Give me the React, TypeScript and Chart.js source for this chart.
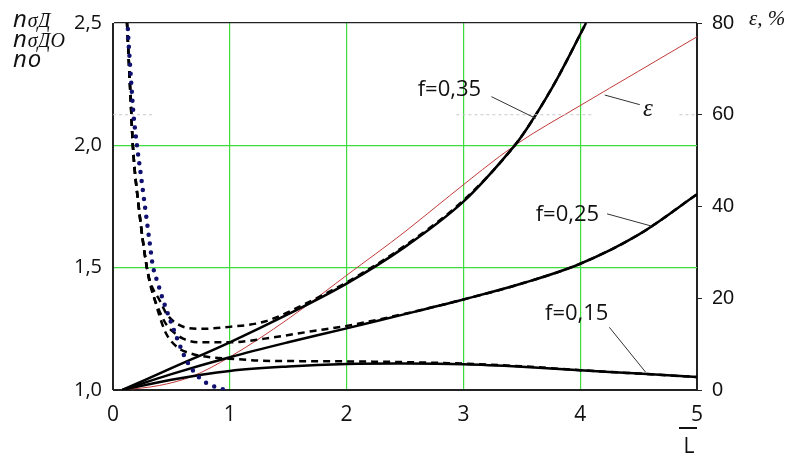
import React, { useEffect, useRef } from "react";
import { Chart, registerables } from "chart.js";
Chart.register(...registerables);

// ---- data ----
const xTicks = [0, 1, 2, 3, 4, 5];

const f35SolidX = [0.08, 0.5, 1.0, 1.5, 2.0, 2.5, 3.0, 3.44, 3.6, 3.8, 4.05];
const f35SolidY = [1.0, 1.089, 1.195, 1.31, 1.435, 1.585, 1.77, 2.0, 2.11, 2.27, 2.5];

const f25SolidX = [0.08, 0.5, 1.0, 1.5, 2.0, 2.5, 3.0, 3.5, 4.0, 4.5, 5.0];
const f25SolidY = [1.0, 1.065, 1.134, 1.195, 1.252, 1.31, 1.37, 1.435, 1.516, 1.635, 1.8];

const f15SolidX = [0.08, 0.5, 1.0, 1.5, 2.0, 2.5, 3.0, 3.5, 4.0, 4.5, 5.0];
const f15SolidY = [1.0, 1.042, 1.078, 1.096, 1.106, 1.108, 1.105, 1.095, 1.081, 1.067, 1.053];

const f35DashX = [0.12, 0.15, 0.17, 0.22, 0.29, 0.32, 0.4, 0.46, 0.57, 0.74, 1.0, 1.3, 1.7, 2.0, 2.5, 3.0, 3.44, 3.6, 3.8, 4.05];
const f35DashY = [2.5, 2.2, 2.0, 1.75, 1.5, 1.44, 1.366, 1.31, 1.265, 1.25, 1.258, 1.28, 1.365, 1.44, 1.59, 1.775, 2.0, 2.11, 2.27, 2.5];

const f25DashX = [0.12, 0.15, 0.17, 0.22, 0.29, 0.33, 0.4, 0.46, 0.51, 0.6, 0.74, 1.0, 1.3, 1.7, 2.0, 2.5, 3.0, 3.5, 4.0, 4.5, 5.0];
const f25DashY = [2.5, 2.2, 2.0, 1.75, 1.5, 1.41, 1.32, 1.265, 1.24, 1.21, 1.195, 1.195, 1.21, 1.24, 1.262, 1.312, 1.37, 1.435, 1.516, 1.635, 1.8];

const f15DashX = [0.12, 0.15, 0.17, 0.22, 0.29, 0.34, 0.4, 0.45, 0.55, 0.66, 0.83, 1.0, 1.26, 1.6, 2.0, 2.5, 3.0, 3.5, 4.0, 4.5, 5.0];
const f15DashY = [2.5, 2.2, 2.0, 1.75, 1.5, 1.4, 1.3, 1.235, 1.175, 1.15, 1.134, 1.128, 1.12, 1.118, 1.117, 1.114, 1.108, 1.097, 1.081, 1.067, 1.053];

const blueX = [0.12, 0.13, 0.15, 0.175, 0.205, 0.23, 0.26, 0.29, 0.32, 0.34, 0.385, 0.43, 0.49, 0.545, 0.63, 0.74, 0.89, 0.97];
const blueY = [2.55, 2.45, 2.3, 2.13, 2.0, 1.91, 1.8, 1.69, 1.58, 1.51, 1.435, 1.366, 1.285, 1.215, 1.12, 1.05, 1.01, 1.0];

const epsX = [0.08, 0.4, 0.68, 1.0, 1.5, 2.0, 2.5, 2.88, 3.45, 4.0, 4.5, 5.0];
const epsY = [0, 1, 3, 7.2, 15.5, 25, 34.5, 42.3, 53.5, 62, 69.5, 77];

const faintX = [0, 0.36, 0.37, 2.93, 2.94, 4.1, 4.11, 4.84, 4.85, 5.0];
const faintY = [60, 60, null, null, 60, 60, null, null, 60, 60];

// annotation labels (data coordinates, left axis)
const labelTexts = ["f=0,35", "f=0,25", "f=0,15"];
const labelX = [2.88, 3.89, 3.97];
const labelY = [2.228, 1.715, 1.31];
const leaderFromX = [3.24, 4.23, 4.25];
const leaderFromY = [2.199, 1.72, 1.256];
const leaderToX = [3.62, 4.61, 4.56];
const leaderToY = [2.11, 1.67, 1.073];

const epsLabelX = 4.58;
const epsLabelY = 61.1;
const epsLeaderX = [4.21, 4.51];
const epsLeaderY = [64.3, 62.2];

const pts = (xs: number[], ys: (number | null)[]) => xs.map((x, i) => ({ x, y: ys[i] }));

const GREEN = "#3fdc3f";
const FRAME = "#222";
const SANS = "'Open Sans', Lato, sans-serif";
const SERIF = "'Liberation Serif', 'DejaVu Serif', serif";

export default function App() {
  const ref = useRef<HTMLCanvasElement>(null);

  useEffect(() => {
    document.body.style.margin = "0";
    const canvas = ref.current!;

    const annot = {
      id: "annot",
      afterDatasetsDraw(chart: any) {
        const { ctx } = chart;
        const x = chart.scales.x;
        const y = chart.scales.y;
        const y2 = chart.scales.y2;
        ctx.save();
        ctx.strokeStyle = "#333";
        ctx.lineWidth = 1;
        for (let i = 0; i < labelTexts.length; i++) {
          ctx.beginPath();
          ctx.moveTo(x.getPixelForValue(leaderFromX[i]), y.getPixelForValue(leaderFromY[i]));
          ctx.lineTo(x.getPixelForValue(leaderToX[i]), y.getPixelForValue(leaderToY[i]));
          ctx.stroke();
          ctx.fillStyle = "#111";
          ctx.font = `22px ${SANS}`;
          ctx.textAlign = "center";
          ctx.textBaseline = "middle";
          ctx.fillText(labelTexts[i], x.getPixelForValue(labelX[i]), y.getPixelForValue(labelY[i]));
        }
        ctx.beginPath();
        ctx.moveTo(x.getPixelForValue(epsLeaderX[0]), y2.getPixelForValue(epsLeaderY[0]));
        ctx.lineTo(x.getPixelForValue(epsLeaderX[1]), y2.getPixelForValue(epsLeaderY[1]));
        ctx.stroke();
        ctx.font = `italic 25px ${SERIF}`;
        ctx.textAlign = "center";
        ctx.fillText("ε", x.getPixelForValue(epsLabelX), y2.getPixelForValue(epsLabelY));

        // axis titles
        ctx.textAlign = "left";
        ctx.textBaseline = "alphabetic";
        const nFont = `italic 24px ${SANS}`;
        const sFont = `italic 20px ${SERIF}`;
        const rows: [string, string, number][] = [["n", "σД", 27], ["n", "σДО", 47], ["n", "o", 67]];
        for (const [a, b, base] of rows) {
          ctx.font = nFont;
          ctx.fillText(a, 13, base);
          const w = ctx.measureText(a).width;
          ctx.font = b === "o" ? nFont : sFont;
          ctx.fillText(b, 13 + w + 1, base);
        }
        ctx.font = `italic 21px ${SERIF}`;
        ctx.fillText("ε, %", 749, 25);

        // x-axis title L with overline
        ctx.font = `21px ${SANS}`;
        ctx.textAlign = "center";
        ctx.fillText("L", 689, 453);
        ctx.lineWidth = 2;
        ctx.strokeStyle = "#111";
        ctx.beginPath();
        ctx.moveTo(679, 428);
        ctx.lineTo(697, 428);
        ctx.stroke();
        ctx.restore();
      },
    };

    const solid = (xs: number[], ys: number[]) => ({
      data: pts(xs, ys),
      yAxisID: "y",
      borderColor: "#000",
      borderWidth: 2.5,
      pointRadius: 0,
      tension: 0.35,
    });
    const dashed = (xs: number[], ys: number[]) => ({
      data: pts(xs, ys),
      yAxisID: "y",
      borderColor: "#000",
      borderWidth: 2.5,
      borderDash: [7, 5],
      pointRadius: 0,
      cubicInterpolationMode: "monotone",
    });

    const chart = new Chart(canvas, {
      type: "line",
      data: {
        datasets: [
          {
            data: pts(faintX, faintY),
            yAxisID: "y2",
            borderColor: "#c8c8c8",
            borderWidth: 1,
            borderDash: [3, 3],
            pointRadius: 0,
            spanGaps: false,
          },
          {
            data: pts(blueX, blueY),
            yAxisID: "y",
            borderColor: "#101070",
            borderWidth: 4.5,
            borderDash: [0, 9],
            borderCapStyle: "round",
            pointRadius: 0,
            cubicInterpolationMode: "monotone",
          },
          dashed(f35DashX, f35DashY),
          dashed(f25DashX, f25DashY),
          dashed(f15DashX, f15DashY),
          solid(f35SolidX, f35SolidY),
          solid(f25SolidX, f25SolidY),
          solid(f15SolidX, f15SolidY),
          {
            data: pts(epsX, epsY),
            yAxisID: "y2",
            borderColor: "#c23a3a",
            borderWidth: 1,
            pointRadius: 0,
            cubicInterpolationMode: "monotone",
          },
        ],
      },
      options: {
        responsive: false,
        animation: false,
        devicePixelRatio: 1,
        layout: { padding: { top: 21, left: 0, right: 0, bottom: 0 } },
        plugins: { legend: { display: false }, tooltip: { enabled: false } },
        scales: {
          x: {
            type: "linear",
            min: 0,
            max: 5,
            afterBuildTicks: (s: any) => {
              s.ticks = xTicks.map((v) => ({ value: v }));
            },
            afterFit: (s: any) => {
              s.height = 67;
            },
            ticks: {
              padding: 12,
              color: "#111",
              font: { family: SANS, size: 21 },
              callback: (v: any) => String(v),
            },
            grid: {
              color: (c: any) => (c.tick && (c.tick.value === 0 || c.tick.value === 5) ? FRAME : GREEN),
              lineWidth: 1.2,
              drawTicks: false,
            },
            border: { display: true, color: FRAME, width: 1 },
          },
          y: {
            type: "linear",
            position: "left",
            min: 1,
            max: 2.5,
            ticks: {
              stepSize: 0.5,
              padding: 11,
              color: "#111",
              font: { family: SANS, size: 20 },
              callback: (v: any) => Number(v).toFixed(1).replace(".", ","),
            },
            afterFit: (s: any) => {
              s.width = 113;
            },
            grid: {
              color: (c: any) => (c.tick && (c.tick.value === 1 || c.tick.value === 2.5) ? FRAME : GREEN),
              lineWidth: 1.2,
              drawTicks: false,
            },
            border: { display: true, color: FRAME, width: 1 },
          },
          y2: {
            type: "linear",
            position: "right",
            min: 0,
            max: 80,
            ticks: {
              stepSize: 20,
              padding: 10,
              color: "#111",
              font: { family: "'Liberation Sans', Arial, sans-serif", size: 20 },
            },
            afterFit: (s: any) => {
              s.width = 101;
            },
            grid: { drawOnChartArea: false, tickLength: 5, color: FRAME },
            border: { display: true, color: FRAME, width: 1 },
          },
        },
      } as any,
      plugins: [annot],
    });
    return () => chart.destroy();
  }, []);

  return (
    <div style={{ width: 798, height: 457, background: "#fff" }}>
      <canvas ref={ref} width={798} height={457} />
    </div>
  );
}
